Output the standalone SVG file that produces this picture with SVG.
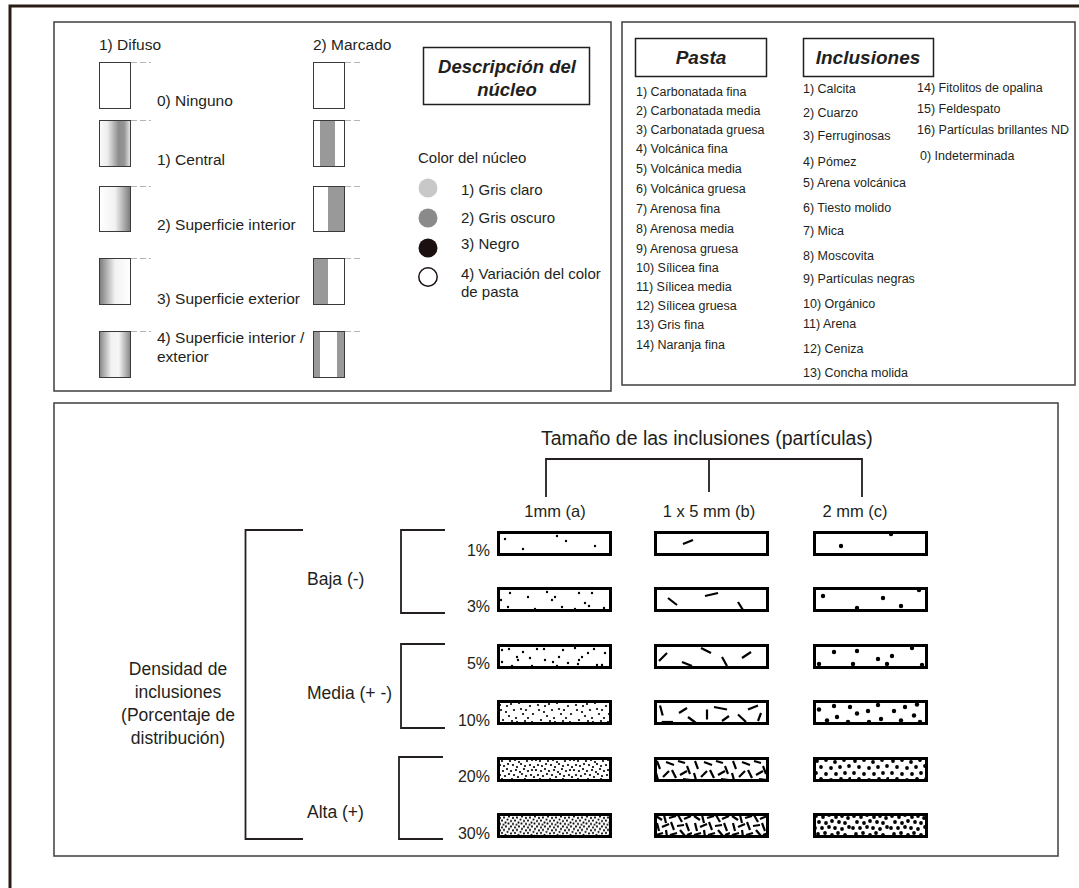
<svg xmlns="http://www.w3.org/2000/svg" width="1079" height="888" viewBox="0 0 1079 888">
<style>
text{font-family:"Liberation Sans",Arial,sans-serif;fill:#231f20}
.t15{font-size:15.5px}
.t12{font-size:12.5px}
.hd{font-weight:bold;font-style:italic;font-size:19px}
.panel{fill:#fff;stroke:#4a4a4a;stroke-width:1.6}
.core{stroke:#3a3a3a;stroke-width:1}
.dash{stroke:#b5b5b5;stroke-width:1;stroke-dasharray:6 3}
.brk{fill:none;stroke:#231f20;stroke-width:1.8}
.box{fill:none;stroke:#000;stroke-width:3}
.bf{fill:#fff}
.d1{fill:#000}
.sl{stroke:#000;stroke-width:2.2}
.lbl{font-size:17.5px}
</style>
<defs>
<linearGradient id="gCen" x1="0" x2="1" y1="0" y2="0"><stop offset="0" stop-color="#fafafa"/><stop offset="0.25" stop-color="#eeeeee"/><stop offset="0.62" stop-color="#8c8c8c"/><stop offset="0.8" stop-color="#959595"/><stop offset="1" stop-color="#eaeaea"/></linearGradient>
<linearGradient id="gInt" x1="0" x2="1" y1="0" y2="0"><stop offset="0" stop-color="#ffffff"/><stop offset="0.5" stop-color="#f2f2f2"/><stop offset="1" stop-color="#7a7a7a"/></linearGradient>
<linearGradient id="gExt" x1="0" x2="1" y1="0" y2="0"><stop offset="0" stop-color="#7a7a7a"/><stop offset="0.5" stop-color="#f2f2f2"/><stop offset="1" stop-color="#ffffff"/></linearGradient>
<linearGradient id="gBoth" x1="0" x2="1" y1="0" y2="0"><stop offset="0" stop-color="#858585"/><stop offset="0.38" stop-color="#f2f2f2"/><stop offset="0.62" stop-color="#f6f6f6"/><stop offset="1" stop-color="#858585"/></linearGradient>
<pattern id="pa10" width="38" height="25" patternUnits="userSpaceOnUse">
<g fill="#000"><circle cx="3" cy="5" r="1.1"/><circle cx="9" cy="12" r="1.1"/><circle cx="14" cy="4" r="1.1"/><circle cx="19" cy="18" r="1.1"/><circle cx="24" cy="9" r="1.1"/><circle cx="28" cy="21" r="1.1"/><circle cx="33" cy="6" r="1.1"/><circle cx="36" cy="14" r="1.1"/><circle cx="6" cy="20" r="1.1"/><circle cx="12" cy="16" r="1.1"/><circle cx="17" cy="10" r="1.1"/><circle cx="22" cy="3" r="1.1"/><circle cx="26" cy="14" r="1.1"/><circle cx="31" cy="18" r="1.1"/><circle cx="35" cy="22" r="1.1"/><circle cx="4" cy="10" r="1.1"/><circle cx="10" cy="6" r="1.1"/><circle cx="20" cy="22" r="1.1"/><circle cx="29" cy="10" r="1.1"/><circle cx="15" cy="21" r="1.1"/></g>
</pattern>
<pattern id="pa20" width="38" height="25" patternUnits="userSpaceOnUse">
<g fill="#000"><circle cx="1" cy="3" r="1.1"/><circle cx="5" cy="4" r="1.1"/><circle cx="9" cy="2" r="1.1"/><circle cx="13" cy="4" r="1.1"/><circle cx="18" cy="3" r="1.1"/><circle cx="22" cy="5" r="1.1"/><circle cx="26" cy="2" r="1.1"/><circle cx="30" cy="4" r="1.1"/><circle cx="35" cy="3" r="1.1"/>
<circle cx="3" cy="8" r="1.1"/><circle cx="7" cy="9" r="1.1"/><circle cx="11" cy="7" r="1.1"/><circle cx="16" cy="8" r="1.1"/><circle cx="20" cy="10" r="1.1"/><circle cx="24" cy="7" r="1.1"/><circle cx="28" cy="9" r="1.1"/><circle cx="33" cy="8" r="1.1"/><circle cx="37" cy="10" r="1.1"/>
<circle cx="1" cy="13" r="1.1"/><circle cx="6" cy="14" r="1.1"/><circle cx="10" cy="12" r="1.1"/><circle cx="14" cy="14" r="1.1"/><circle cx="19" cy="13" r="1.1"/><circle cx="23" cy="15" r="1.1"/><circle cx="27" cy="12" r="1.1"/><circle cx="31" cy="14" r="1.1"/><circle cx="35" cy="13" r="1.1"/>
<circle cx="3" cy="18" r="1.1"/><circle cx="8" cy="19" r="1.1"/><circle cx="12" cy="17" r="1.1"/><circle cx="17" cy="18" r="1.1"/><circle cx="21" cy="20" r="1.1"/><circle cx="25" cy="17" r="1.1"/><circle cx="29" cy="19" r="1.1"/><circle cx="34" cy="18" r="1.1"/><circle cx="37" cy="20" r="1.1"/>
<circle cx="1" cy="23" r="1.1"/><circle cx="5" cy="22" r="1.1"/><circle cx="10" cy="24" r="1.1"/><circle cx="15" cy="22" r="1.1"/><circle cx="19" cy="23" r="1.1"/><circle cx="23" cy="24" r="1.1"/><circle cx="28" cy="22" r="1.1"/><circle cx="32" cy="23" r="1.1"/><circle cx="36" cy="24" r="1.1"/></g>
</pattern>
<pattern id="pa30" width="13" height="12.5" patternUnits="userSpaceOnUse">
<g fill="#000"><circle cx="1" cy="1" r="1.05"/><circle cx="5" cy="2" r="1.05"/><circle cx="9" cy="1" r="1.05"/><circle cx="12" cy="3.5" r="1.05"/><circle cx="3" cy="5" r="1.05"/><circle cx="7" cy="4.5" r="1.05"/><circle cx="10.5" cy="6.5" r="1.05"/><circle cx="1" cy="8" r="1.05"/><circle cx="5" cy="7.5" r="1.05"/><circle cx="8.5" cy="9.5" r="1.05"/><circle cx="3" cy="11" r="1.05"/><circle cx="6.5" cy="11.8" r="1.05"/><circle cx="11.5" cy="10.5" r="1.05"/></g>
</pattern>
<pattern id="pb20" width="38" height="25" patternUnits="userSpaceOnUse">
<g stroke="#000" stroke-width="2.2"><line x1="3" y1="4" x2="6" y2="12"/><line x1="9" y1="20" x2="15" y2="14"/><line x1="12" y1="5" x2="20" y2="8"/><line x1="18" y1="13" x2="22" y2="21"/><line x1="24" y1="4" x2="31" y2="6"/><line x1="26" y1="18" x2="33" y2="14"/><line x1="33" y1="9" x2="36" y2="17"/><line x1="2" y1="16" x2="4" y2="23"/><line x1="29" y1="22" x2="37" y2="23"/></g>
</pattern>
<pattern id="pb30" width="38" height="25" patternUnits="userSpaceOnUse">
<g stroke="#000" stroke-width="2.2"><line x1="2" y1="3" x2="8" y2="7"/><line x1="10" y1="2" x2="12" y2="10"/><line x1="15" y1="5" x2="22" y2="3"/><line x1="24" y1="2" x2="28" y2="9"/><line x1="30" y1="6" x2="37" y2="3"/><line x1="3" y1="10" x2="5" y2="18"/><line x1="8" y1="14" x2="15" y2="11"/><line x1="17" y1="9" x2="20" y2="17"/><line x1="23" y1="13" x2="30" y2="12"/><line x1="32" y1="10" x2="35" y2="18"/><line x1="2" y1="22" x2="9" y2="20"/><line x1="12" y1="17" x2="13" y2="24"/><line x1="16" y1="22" x2="23" y2="20"/><line x1="26" y1="17" x2="31" y2="23"/><line x1="33" y1="22" x2="38" y2="20"/></g>
</pattern>
<pattern id="pc20" width="38" height="25" patternUnits="userSpaceOnUse">
<g fill="#000"><circle cx="4" cy="4" r="1.9"/><circle cx="13" cy="3" r="1.9"/><circle cx="22" cy="5" r="1.9"/><circle cx="31" cy="3" r="1.9"/><circle cx="8" cy="10" r="1.9"/><circle cx="18" cy="11" r="1.9"/><circle cx="27" cy="10" r="1.9"/><circle cx="36" cy="9" r="1.9"/><circle cx="3" cy="16" r="1.9"/><circle cx="13" cy="17" r="1.9"/><circle cx="23" cy="17" r="1.9"/><circle cx="32" cy="16" r="1.9"/><circle cx="8" cy="22" r="1.9"/><circle cx="18" cy="23" r="1.9"/><circle cx="28" cy="22" r="1.9"/><circle cx="37" cy="22" r="1.9"/></g>
</pattern>
<pattern id="pc30" width="38" height="25" patternUnits="userSpaceOnUse">
<g fill="#000"><circle cx="3" cy="3" r="1.9"/><circle cx="10" cy="4" r="1.9"/><circle cx="16" cy="2" r="1.9"/><circle cx="23" cy="4" r="1.9"/><circle cx="29" cy="3" r="1.9"/><circle cx="35" cy="5" r="1.9"/><circle cx="6" cy="9" r="1.9"/><circle cx="13" cy="10" r="1.9"/><circle cx="19" cy="8" r="1.9"/><circle cx="26" cy="9" r="1.9"/><circle cx="32" cy="10" r="1.9"/><circle cx="2" cy="15" r="1.9"/><circle cx="9" cy="15" r="1.9"/><circle cx="16" cy="14" r="1.9"/><circle cx="22" cy="15" r="1.9"/><circle cx="29" cy="16" r="1.9"/><circle cx="36" cy="14" r="1.9"/><circle cx="5" cy="21" r="1.9"/><circle cx="12" cy="20" r="1.9"/><circle cx="19" cy="22" r="1.9"/><circle cx="25" cy="20" r="1.9"/><circle cx="32" cy="22" r="1.9"/></g>
</pattern>
</defs>
<rect width="1079" height="888" fill="#fff"/>
<rect id="frame" x="10" y="6" width="1100" height="900" fill="none" stroke="#2a1c16" stroke-width="3"/>

<g id="panel-nucleo">
<rect class="panel" x="54" y="22" width="557" height="369"/>
<text class="t15" x="99" y="50">1) Difuso</text>
<text class="t15" x="313" y="50">2) Marcado</text>
<rect class="core" x="99.5" y="62.5" width="31" height="46" fill="#fff"/>
<rect class="core" x="99.5" y="120.5" width="31" height="46" fill="url(#gCen)"/>
<rect class="core" x="99.5" y="186.5" width="31" height="45" fill="url(#gInt)"/>
<rect class="core" x="99.5" y="258.5" width="31" height="46" fill="url(#gExt)"/>
<rect class="core" x="99.5" y="331.5" width="31" height="46" fill="url(#gBoth)"/>
<g class="dash"><line x1="131" y1="62.5" x2="151" y2="62.5"/><line x1="131" y1="120.5" x2="151" y2="120.5"/><line x1="131" y1="186.5" x2="151" y2="186.5"/><line x1="131" y1="258.5" x2="151" y2="258.5"/><line x1="131" y1="331.5" x2="151" y2="331.5"/>
<line x1="345" y1="62.5" x2="362" y2="62.5"/><line x1="345" y1="120.5" x2="362" y2="120.5"/><line x1="345" y1="186.5" x2="362" y2="186.5"/><line x1="345" y1="258.5" x2="362" y2="258.5"/><line x1="345" y1="331.5" x2="362" y2="331.5"/></g>
<rect x="320" y="120" width="15" height="46" fill="#999"/>
<rect x="328" y="186" width="16" height="45" fill="#999"/>
<rect x="313" y="258" width="15" height="46" fill="#999"/>
<rect x="313" y="331" width="7" height="46" fill="#999"/>
<rect x="337" y="331" width="7" height="46" fill="#999"/>
<g fill="none"><rect class="core" x="313.5" y="62.5" width="31" height="46"/><rect class="core" x="313.5" y="120.5" width="31" height="46"/><rect class="core" x="313.5" y="186.5" width="31" height="45"/><rect class="core" x="313.5" y="258.5" width="31" height="46"/><rect class="core" x="313.5" y="331.5" width="31" height="46"/></g>
<text class="t15" x="157" y="106">0) Ninguno</text>
<text class="t15" x="157" y="165">1) Central</text>
<text class="t15" x="157" y="230">2) Superficie interior</text>
<text class="t15" x="157" y="304">3) Superficie exterior</text>
<text class="t15" x="157" y="343">4) Superficie interior /</text>
<text class="t15" x="157" y="362">exterior</text>
<rect x="423.5" y="47.5" width="166" height="57" fill="#fff" stroke="#231f20" stroke-width="1.5"/>
<text class="hd" x="507" y="73" text-anchor="middle" style="font-size:18.5px">Descripción del</text>
<text class="hd" x="507" y="96" text-anchor="middle" style="font-size:18.5px">núcleo</text>
<text class="t15" x="418" y="163" style="font-size:15px">Color del núcleo</text>
<circle cx="428" cy="188" r="9.5" fill="#c8c8c8"/>
<circle cx="428" cy="218" r="9.5" fill="#8a8a8a"/>
<circle cx="428" cy="248" r="9.5" fill="#1b1010"/>
<circle cx="428" cy="277" r="9.2" fill="#fff" stroke="#1b1010" stroke-width="1.5"/>
<text class="t15" x="461" y="195" style="font-size:15px">1) Gris claro</text>
<text class="t15" x="461" y="223" style="font-size:15px">2) Gris oscuro</text>
<text class="t15" x="461" y="249" style="font-size:15px">3) Negro</text>
<text class="t15" x="461" y="279" style="font-size:15px">4) Variación del color</text>
<text class="t15" x="461" y="297" style="font-size:15px">de pasta</text>
</g>

<g id="panel-pasta">
<rect class="panel" x="622" y="22" width="453" height="363"/>
<rect x="635.5" y="38.5" width="131" height="38" fill="#fff" stroke="#231f20" stroke-width="1.5"/>
<text class="hd" x="701" y="64" text-anchor="middle">Pasta</text>
<rect x="803.5" y="38.5" width="130" height="38" fill="#fff" stroke="#231f20" stroke-width="1.5"/>
<text class="hd" x="868" y="64" text-anchor="middle">Inclusiones</text>
<g class="t12">
<text x="636" y="96">1) Carbonatada fina</text>
<text x="636" y="115">2) Carbonatada media</text>
<text x="636" y="134">3) Carbonatada gruesa</text>
<text x="636" y="153">4) Volcánica fina</text>
<text x="636" y="173">5) Volcánica media</text>
<text x="636" y="193">6) Volcánica gruesa</text>
<text x="636" y="213">7) Arenosa fina</text>
<text x="636" y="233">8) Arenosa media</text>
<text x="636" y="253">9) Arenosa gruesa</text>
<text x="636" y="272">10) Sílicea fina</text>
<text x="636" y="291">11) Sílicea media</text>
<text x="636" y="310">12) Sílicea gruesa</text>
<text x="636" y="329">13) Gris fina</text>
<text x="636" y="349">14) Naranja fina</text>
<text x="803" y="93">1) Calcita</text>
<text x="803" y="117">2) Cuarzo</text>
<text x="803" y="140">3) Ferruginosas</text>
<text x="803" y="166">4) Pómez</text>
<text x="803" y="187">5) Arena volcánica</text>
<text x="803" y="212">6) Tiesto molido</text>
<text x="803" y="235">7) Mica</text>
<text x="803" y="260">8) Moscovita</text>
<text x="803" y="283">9) Partículas negras</text>
<text x="803" y="308">10) Orgánico</text>
<text x="803" y="328">11) Arena</text>
<text x="803" y="353">12) Ceniza</text>
<text x="803" y="377">13) Concha molida</text>
<text x="917" y="92">14) Fitolitos de opalina</text>
<text x="917" y="113">15) Feldespato</text>
<text x="917" y="134">16) Partículas brillantes ND</text>
<text x="920" y="160">0) Indeterminada</text>
</g>
</g>

<g id="panel-density">
<rect class="panel" x="54" y="403" width="1004" height="453"/>
<text x="541" y="445" style="font-size:19.5px">Tamaño de las inclusiones (partículas)</text>
<g class="lbl" text-anchor="middle" style="font-size:16.5px">
<text x="555" y="517">1mm (a)</text>
<text x="709" y="517">1 x 5 mm (b)</text>
<text x="855" y="517">2 mm (c)</text>
</g>
<g class="lbl" text-anchor="middle">
<text x="178" y="675">Densidad de</text>
<text x="178" y="698">inclusiones</text>
<text x="178" y="721">(Porcentaje de</text>
<text x="178" y="744">distribución)</text>
</g>
<g class="lbl">
<text x="307" y="585">Baja (-)</text>
<text x="307" y="699">Media (+ -)</text>
<text x="307" y="818">Alta (+)</text>
</g>
<g text-anchor="end" style="font-size:16px">
<text x="490" y="556">1%</text>
<text x="490" y="612">3%</text>
<text x="490" y="669">5%</text>
<text x="490" y="726">10%</text>
<text x="490" y="782">20%</text>
<text x="490" y="839">30%</text>
</g>

<!-- column a -->
<g id="a1" transform="translate(497,531)"><rect class="bf" width="115" height="25"/><g class="d1"><circle cx="8" cy="8" r="1.2"/><circle cx="26" cy="18" r="1.2"/><circle cx="60" cy="5" r="1.2"/><circle cx="69" cy="10" r="1.2"/><circle cx="98" cy="15" r="1.2"/></g><rect class="box" x="1.5" y="1.5" width="112" height="22"/></g>
<g id="a3" transform="translate(497,587)"><rect class="bf" width="115" height="25"/><g class="d1"><circle cx="13" cy="6" r="1.2"/><circle cx="31" cy="10" r="1.2"/><circle cx="50" cy="5" r="1.2"/><circle cx="55" cy="13" r="1.2"/><circle cx="58" cy="10" r="1.2"/><circle cx="82" cy="6" r="1.2"/><circle cx="95" cy="6" r="1.2"/><circle cx="88" cy="16" r="1.2"/><circle cx="92" cy="19" r="1.2"/><circle cx="11" cy="20" r="1.2"/><circle cx="38" cy="22" r="1.2"/><circle cx="65" cy="20" r="1.2"/><circle cx="78" cy="22" r="1.2"/><circle cx="107" cy="21" r="1.2"/><circle cx="4" cy="13" r="1.2"/></g><rect class="box" x="1.5" y="1.5" width="112" height="22"/></g>
<g id="a5" transform="translate(497,644)"><rect class="bf" width="115" height="25"/><g class="d1"><circle cx="12" cy="5" r="1.2"/><circle cx="20" cy="13" r="1.2"/><circle cx="26" cy="8" r="1.2"/><circle cx="40" cy="5" r="1.2"/><circle cx="47" cy="5" r="1.2"/><circle cx="66" cy="6" r="1.2"/><circle cx="78" cy="4" r="1.2"/><circle cx="91" cy="9" r="1.2"/><circle cx="97" cy="5" r="1.2"/><circle cx="108" cy="9" r="1.2"/><circle cx="5" cy="18" r="1.2"/><circle cx="21" cy="16" r="1.2"/><circle cx="33" cy="14" r="1.2"/><circle cx="48" cy="16" r="1.2"/><circle cx="56" cy="18" r="1.2"/><circle cx="62" cy="13" r="1.2"/><circle cx="71" cy="19" r="1.2"/><circle cx="82" cy="16" r="1.2"/><circle cx="85" cy="13" r="1.2"/><circle cx="15" cy="22" r="1.2"/><circle cx="35" cy="22" r="1.2"/><circle cx="60" cy="22" r="1.2"/><circle cx="81" cy="20" r="1.2"/><circle cx="100" cy="21" r="1.2"/><circle cx="105" cy="21" r="1.2"/><circle cx="5" cy="6" r="1.2"/></g><rect class="box" x="1.5" y="1.5" width="112" height="22"/></g>
<g id="a10" transform="translate(497,700)"><rect width="115" height="25" fill="url(#pa10)"/><rect class="box" x="1.5" y="1.5" width="112" height="22"/></g>
<g id="a20" transform="translate(497,757)"><rect width="115" height="25" fill="url(#pa20)"/><rect class="box" x="1.5" y="1.5" width="112" height="22"/></g>
<g id="a30" transform="translate(497,813)"><rect width="115" height="25" fill="url(#pa30)"/><rect class="box" x="1.5" y="1.5" width="112" height="22"/></g>

<!-- column b -->
<g id="b1" transform="translate(654,531)"><rect class="bf" width="115" height="25"/><line class="sl" x1="29" y1="13" x2="39" y2="9"/><rect class="box" x="1.5" y="1.5" width="112" height="22"/></g>
<g id="b3" transform="translate(654,587)"><rect class="bf" width="115" height="25"/><g class="sl"><line x1="14" y1="11" x2="23" y2="18"/><line x1="51" y1="9" x2="64" y2="6"/><line x1="84" y1="15" x2="89" y2="23"/></g><rect class="box" x="1.5" y="1.5" width="112" height="22"/></g>
<g id="b5" transform="translate(654,644)"><rect class="bf" width="115" height="25"/><g class="sl"><line x1="5" y1="17" x2="13" y2="9"/><line x1="28" y1="18" x2="38" y2="22"/><line x1="47" y1="4" x2="57" y2="9"/><line x1="68" y1="13" x2="73" y2="22"/><line x1="88" y1="14" x2="97" y2="8"/></g><rect class="box" x="1.5" y="1.5" width="112" height="22"/></g>
<g id="b10" transform="translate(654,700)"><rect class="bf" width="115" height="25"/><g class="sl"><line x1="6" y1="5.5" x2="8.7" y2="15.5"/><line x1="7.7" y1="22" x2="19" y2="22"/><line x1="25" y1="13" x2="33" y2="8"/><line x1="34" y1="17" x2="42" y2="23"/><line x1="53" y1="9.5" x2="53" y2="19.5"/><line x1="60" y1="7" x2="73" y2="9.5"/><line x1="68" y1="21" x2="75" y2="16"/><line x1="84" y1="14.5" x2="92" y2="22"/><line x1="94" y1="9.5" x2="104" y2="5.5"/><line x1="107" y1="13" x2="104" y2="21"/></g><rect class="box" x="1.5" y="1.5" width="112" height="22"/></g>
<g id="b20" transform="translate(654,757)"><rect width="115" height="25" fill="url(#pb20)"/><rect class="box" x="1.5" y="1.5" width="112" height="22"/></g>
<g id="b30" transform="translate(654,813)"><rect width="115" height="25" fill="url(#pb30)"/><rect class="box" x="1.5" y="1.5" width="112" height="22"/></g>

<!-- column c -->
<g id="c1" transform="translate(813,531)"><rect class="bf" width="115" height="25"/><g class="d1"><circle cx="28" cy="15" r="2.2"/><circle cx="78" cy="3" r="2.2"/></g><rect class="box" x="1.5" y="1.5" width="112" height="22"/></g>
<g id="c3" transform="translate(813,587)"><rect class="bf" width="115" height="25"/><g class="d1"><circle cx="10" cy="9" r="2.2"/><circle cx="44" cy="21" r="2.2"/><circle cx="70" cy="11" r="2.2"/><circle cx="88" cy="19" r="2.2"/><circle cx="106" cy="3" r="2.2"/></g><rect class="box" x="1.5" y="1.5" width="112" height="22"/></g>
<g id="c5" transform="translate(813,644)"><rect class="bf" width="115" height="25"/><g class="d1"><circle cx="21" cy="8" r="2.2"/><circle cx="44" cy="7" r="2.2"/><circle cx="65" cy="15" r="2.2"/><circle cx="79" cy="12" r="2.2"/><circle cx="74" cy="20" r="2.2"/><circle cx="6" cy="20" r="2.2"/><circle cx="40" cy="20" r="2.2"/><circle cx="109" cy="21" r="2.2"/><circle cx="99" cy="4" r="2.2"/></g><rect class="box" x="1.5" y="1.5" width="112" height="22"/></g>
<g id="c10" transform="translate(813,700)"><rect class="bf" width="115" height="25"/><g class="d1"><circle cx="6" cy="9.5" r="2.2"/><circle cx="21" cy="6" r="2.2"/><circle cx="37" cy="7" r="2.2"/><circle cx="65" cy="5" r="2.2"/><circle cx="92" cy="7" r="2.2"/><circle cx="104" cy="4.5" r="2.2"/><circle cx="24" cy="17" r="2.2"/><circle cx="44" cy="13.5" r="2.2"/><circle cx="55" cy="11" r="2.2"/><circle cx="81" cy="11" r="2.2"/><circle cx="101" cy="15.5" r="2.2"/><circle cx="14" cy="20.5" r="2.2"/><circle cx="35" cy="22" r="2.2"/><circle cx="56" cy="22" r="2.2"/><circle cx="68" cy="19" r="2.2"/><circle cx="88" cy="20.5" r="2.2"/><circle cx="107" cy="22" r="2.2"/></g><rect class="box" x="1.5" y="1.5" width="112" height="22"/></g>
<g id="c20" transform="translate(813,757)"><rect width="115" height="25" fill="url(#pc20)"/><rect class="box" x="1.5" y="1.5" width="112" height="22"/></g>
<g id="c30" transform="translate(813,813)"><rect width="115" height="25" fill="url(#pc30)"/><rect class="box" x="1.5" y="1.5" width="112" height="22"/></g>
</g>

<g id="connectors">
<path class="brk" d="M546,497 V459 H862 V497 M709,459 V492"/>
<path class="brk" d="M303,530 H245.5 V839 H303"/>
<path class="brk" d="M445,530 H401 V613 H445"/>
<path class="brk" d="M445,644 H401 V728 H445"/>
<path class="brk" d="M443,757 H399 V839 H443"/>
</g>
</svg>
